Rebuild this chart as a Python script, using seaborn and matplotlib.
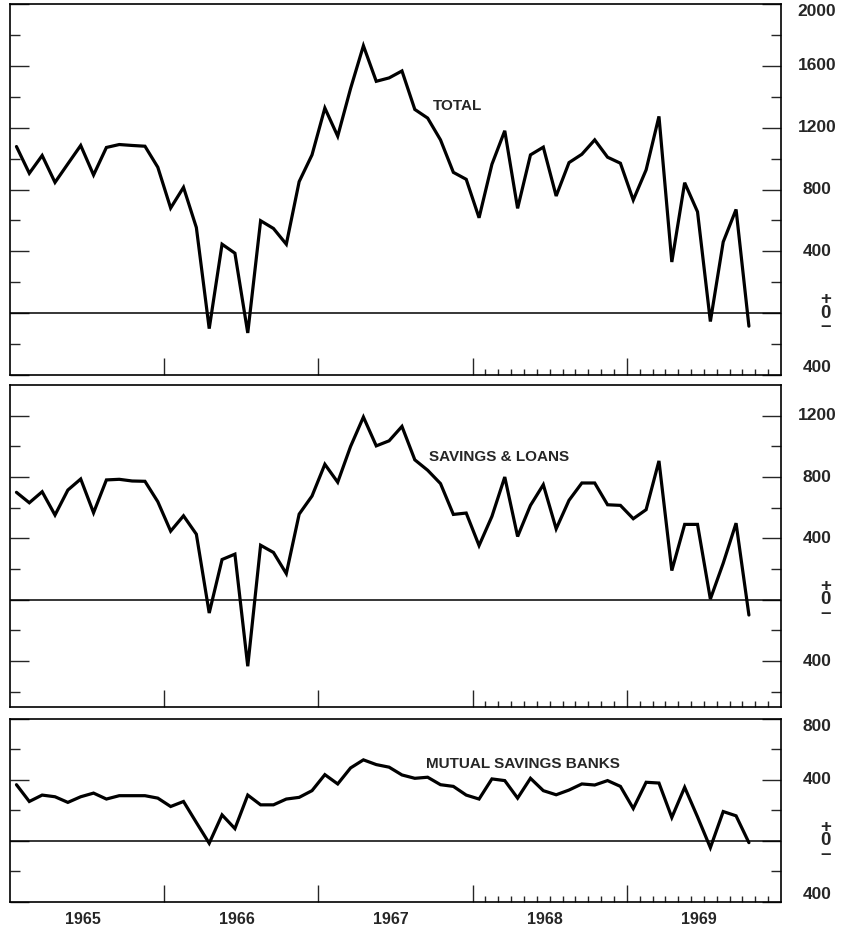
import numpy as np
import pandas as pd
import matplotlib.pyplot as plt
import seaborn as sns
from matplotlib.ticker import FixedLocator
from matplotlib.transforms import blended_transform_factory

sns.set_style('white')
plt.rcParams['font.family'] = ['Liberation Sans', 'DejaVu Sans']

# monthly flows, Jan 1965 - Oct 1969
total = [1078, 905, 1020, 846, 966, 1085, 894, 1072, 1091, 1085, 1080, 944,
         680, 814, 554, -100, 446, 388, -128, 598, 548, 446, 851, 1024,
         1327, 1145, 1453, 1730, 1500, 1522, 1567, 1318, 1262, 1121, 911, 866,
         617, 963, 1180, 678, 1024, 1074, 758, 974, 1028, 1121, 1009, 970,
         732, 927, 1273, 331, 844, 656, -54, 461, 671, -84]
savings_loans = [700, 632, 704, 552, 715, 787, 567, 781, 785, 774, 772, 639,
                 447, 547, 427, -87, 262, 297, -434, 355, 308, 170, 558, 676,
                 883, 766, 999, 1191, 1003, 1036, 1130, 912, 844, 757, 556, 565,
                 353, 543, 800, 412, 615, 750, 462, 648, 761, 761, 619, 615,
                 528, 587, 905, 190, 491, 491, 4, 238, 499, -100]
mutual_savings = [369, 259, 301, 290, 253, 290, 314, 275, 297, 297, 297, 281,
                  226, 259, 121, -15, 171, 81, 301, 237, 237, 275, 286, 330,
                  435, 374, 479, 532, 501, 484, 433, 411, 418, 369, 358, 301,
                  275, 407, 396, 281, 411, 330, 303, 334, 374, 367, 396, 358,
                  213, 385, 380, 154, 352, 158, -44, 193, 165, -11]

years = [1965, 1966, 1967, 1968, 1969]
panel_names = ['TOTAL', 'SAVINGS & LOANS', 'MUTUAL SAVINGS BANKS']
panel_series = [total, savings_loans, mutual_savings]
panel_ylims = [(-400, 2000), (-700, 1400), (-400, 800)]
panel_labels = [[2000, 1600, 1200, 800, 400, -400],
                [1200, 800, 400, -400],
                [800, 400, -400]]
name_pos = [(1967.74, 1340), (1967.715, 930), (1967.70, 505)]

# mid-month positions in fractional years
t = 1965 + (np.arange(len(total)) + 0.5) / 12

fig = plt.figure(figsize=(8.43, 9.34), dpi=100)
rects = [[0.0119, 0.5985, 0.9146, 0.3972],
         [0.0119, 0.2430, 0.9146, 0.3448],
         [0.0119, 0.0343, 0.9146, 0.1959]]

for i, rect in enumerate(rects):
    ax = fig.add_axes(rect)
    df = pd.DataFrame({'t': t, 'v': panel_series[i]})
    sns.lineplot(data=df, x='t', y='v', ax=ax, color='black', linewidth=2.3,
                 solid_joinstyle='miter')
    ax.axhline(0, color='black', lw=1.1)
    lo, hi = panel_ylims[i]
    ax.set_xlim(1965, 1970)
    ax.set_ylim(lo, hi)
    ax.set_xlabel('')
    ax.set_ylabel('')
    for s in ax.spines.values():
        s.set_color('black')
        s.set_linewidth(1.2)

    # y ticks: long at multiples of 400, short in between
    ax.yaxis.set_major_locator(FixedLocator(np.arange(-800, hi + 1, 400)))
    ax.yaxis.set_minor_locator(FixedLocator(np.arange(-600, hi, 400)))
    ax.tick_params(axis='y', which='major', direction='in', length=14, width=1,
                   left=True, right=True, labelleft=False, labelright=False)
    ax.tick_params(axis='y', which='minor', direction='in', length=7, width=1,
                   left=True, right=True)
    # x ticks: year boundaries, monthly from 1968
    ax.xaxis.set_major_locator(FixedLocator([1966, 1967, 1968, 1969]))
    ax.xaxis.set_minor_locator(FixedLocator(1968 + np.arange(1, 24) / 12))
    ax.tick_params(axis='x', which='major', direction='in', length=12, width=1,
                   bottom=True, top=False, labelbottom=False)
    ax.tick_params(axis='x', which='minor', direction='in', length=4, width=1,
                   bottom=True, top=False)

    trans = blended_transform_factory(ax.transAxes, ax.transData)
    for v in panel_labels[i]:
        va = 'center'
        if v == hi:
            va = 'top'
        elif v == lo:
            va = 'bottom'
        ax.text(1.0467, v, str(abs(v)), transform=trans, ha='center', va=va,
                fontsize=12.5, fontweight='bold')
    ax.text(1.0575, 0, '+\n0\n\u2013', transform=trans, ha='center',
            va='center', fontsize=13.5, fontweight='bold', linespacing=0.72)

    ax.text(name_pos[i][0], name_pos[i][1], panel_names[i], ha='left',
            va='center', fontsize=11, fontweight='bold')

    if i == 2:
        xt = ax.get_xaxis_transform()
        for y in years:
            ax.text(y + 0.47, -0.098, str(y), transform=xt, ha='center',
                    va='center', fontsize=11.5, fontweight='bold')

fig.savefig('out.png', dpi=100, facecolor='white')
